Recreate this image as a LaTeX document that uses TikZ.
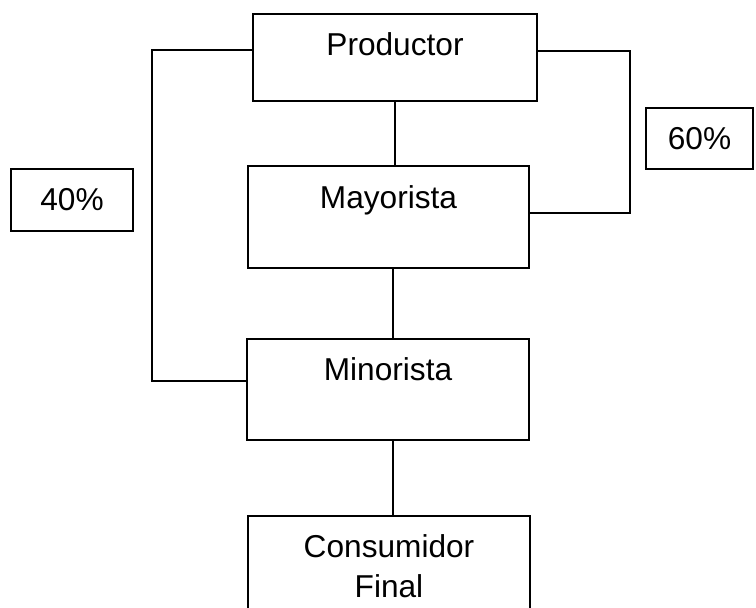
\documentclass[tikz,border=0pt]{standalone}
\usepackage{fontspec}
\setmainfont{Liberation Sans}

\tikzset{
    caja/.style={draw, line width=1.3pt, font=\fontsize{18}{22.7}\selectfont,
        text height=0.5cm, text depth=0.86cm, minimum width=5.62cm, minimum height=2.04cm, inner sep=0pt},
    pct/.style={draw, line width=1.3pt, font=\fontsize{18}{22.7}\selectfont, inner sep=0pt},
    linea/.style={line width=1.3pt}
}

\begin{document}
\begin{tikzpicture}
    \useasboundingbox (0,0) rectangle (15.12,-12.14);
    % cadena de distribucion
    \node[caja, minimum width=5.68cm, minimum height=1.74cm, text depth=0.6cm] (prod) at (7.9,-1.15) {Productor};
    \node[caja] (may) at (7.77,-4.34) {Mayorista};
    \node[caja, minimum width=5.64cm, minimum height=2.02cm] (min) at (7.76,-7.79) {Minorista};
    \node[pct, anchor=north, minimum width=5.64cm, minimum height=2.0cm, align=center] (cons) at (7.78,-10.3) {Consumidor\\Final};
    % porcentajes
    \node[pct, minimum width=2.44cm, minimum height=1.24cm] (p40) at (1.44,-4.0) {40\%};
    \node[pct, minimum width=2.14cm, minimum height=1.22cm] (p60) at (13.99,-2.77) {60\%};
    % conexiones
    \draw[linea] (prod.south) -- (prod.south |- may.north);
    \draw[linea] ([xshift=0.1cm]min.north) -- ([xshift=0.1cm]min.north |- may.south);
    \draw[linea] ([xshift=0.1cm]min.south) -- ([xshift=0.1cm]min.south |- cons.north);
    \draw[linea] ([yshift=0.15cm]prod.west) -- ++(-2,0) |- ([yshift=0.17cm]min.west);
    \draw[linea] ([yshift=0.13cm]prod.east) -- ++(1.84,0) |- ([yshift=0.08cm]may.east);
\end{tikzpicture}
\end{document}
